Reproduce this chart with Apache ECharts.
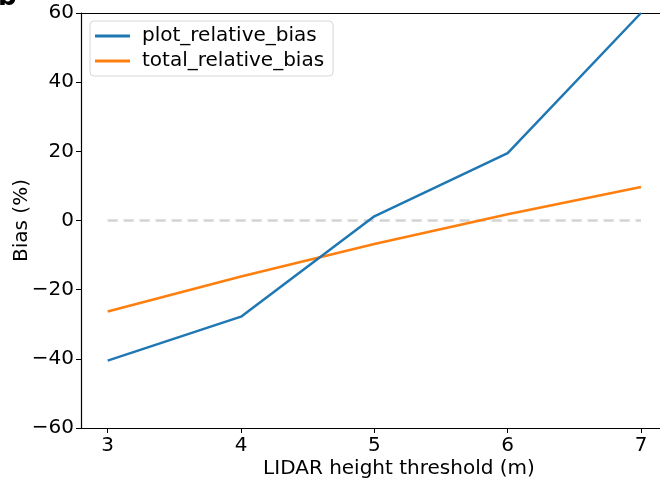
<!DOCTYPE html>
<html><head><meta charset="utf-8">
<script src="https://cdn.jsdelivr.net/npm/echarts@6/dist/echarts.min.js"></script>
<style>html,body{margin:0;padding:0;background:#fff;overflow:hidden;width:660px;height:483px}#c{width:740px;height:483px}</style>
</head><body><div id="c"></div>
<script>
const categories = [3, 4, 5, 6, 7];
const plotRelativeBias = [-40.5, -27.8, 1.2, 19.5, 60];
const totalRelativeBias = [-26.3, -16.2, -6.8, 1.8, 9.7];
const zeroLine = [0, 0, 0, 0, 0];

const font = 'DejaVu Sans';
const chart = echarts.init(document.getElementById('c'), null, {renderer: 'canvas'});
chart.setOption({
  animation: false,
  grid: {left: 81, top: 13, width: 636, height: 415, containLabel: false, outerBoundsMode: 'none'},
  graphic: [
    {type: 'text', x: -2, y: 11, style: {text: 'b', font: 'bold 26px ' + font, fill: '#000', verticalAlign: 'bottom'}},
    {type: 'rect', z: 100, silent: true, shape: {x: 652, y: 15, width: 20, height: 412}, style: {fill: '#fff'}}
  ],
  legend: {
    data: ['plot_relative_bias', 'total_relative_bias'],
    orient: 'vertical', left: 90, top: 21,
    itemWidth: 35, itemHeight: 3, itemGap: 5,
    padding: [5, 9, 5, 5],
    borderColor: '#d6d6d6', borderWidth: 1, borderRadius: 4,
    backgroundColor: 'rgba(255,255,255,0.8)',
    textStyle: {fontFamily: font, fontSize: 20, color: '#000', padding: [0, 0, 0, 7]},
    icon: 'rect'
  },
  xAxis: [{
    type: 'value', min: 2.8, max: 7.57, interval: 1,
    name: 'LIDAR height threshold (m)', nameLocation: 'middle', nameGap: 31, nameMoveOverlap: false,
    nameTextStyle: {fontFamily: font, fontSize: 20, color: '#000'},
    axisLine: {show: true, onZero: false, lineStyle: {color: '#000', width: 1.2}},
    axisTick: {show: true, length: 5, lineStyle: {color: '#000'}, customValues: categories},
    axisLabel: {fontFamily: font, fontSize: 20, color: '#000', margin: 8, customValues: categories},
    splitLine: {show: false}
  }, {
    type: 'value', position: 'top', min: 2.8, max: 7.57,
    axisLine: {show: true, onZero: false, lineStyle: {color: '#000', width: 1.2}},
    axisTick: {show: false}, axisLabel: {show: false}, splitLine: {show: false}
  }],
  yAxis: {
    type: 'value', min: -60, max: 60, interval: 20,
    name: 'Bias (%)', nameLocation: 'middle', nameGap: 49, nameMoveOverlap: false,
    nameTextStyle: {fontFamily: font, fontSize: 20, color: '#000'},
    axisLine: {show: true, onZero: false, lineStyle: {color: '#000', width: 1.2}},
    axisTick: {show: true, length: 5, lineStyle: {color: '#000'}},
    axisLabel: {fontFamily: font, fontSize: 20, color: '#000', margin: 7,
      formatter: v => (v < 0 ? '\u2212' + Math.abs(v) : String(v))},
    splitLine: {show: false}
  },
  series: [
    {name: 'zero', type: 'line', data: categories.map((c, i) => [c, zeroLine[i]]),
     symbol: 'none', silent: true, lineStyle: {color: '#d3d3d3', width: 2.5, type: [10, 6]}, z: 1},
    {name: 'plot_relative_bias', type: 'line', data: categories.map((c, i) => [c, plotRelativeBias[i]]),
     symbol: 'none', color: '#1f77b4', lineStyle: {color: '#1f77b4', width: 2.5}, z: 3},
    {name: 'total_relative_bias', type: 'line', data: categories.map((c, i) => [c, totalRelativeBias[i]]),
     symbol: 'none', color: '#ff7f0e', lineStyle: {color: '#ff7f0e', width: 2.5}, z: 2}
  ]
});
</script></body></html>
